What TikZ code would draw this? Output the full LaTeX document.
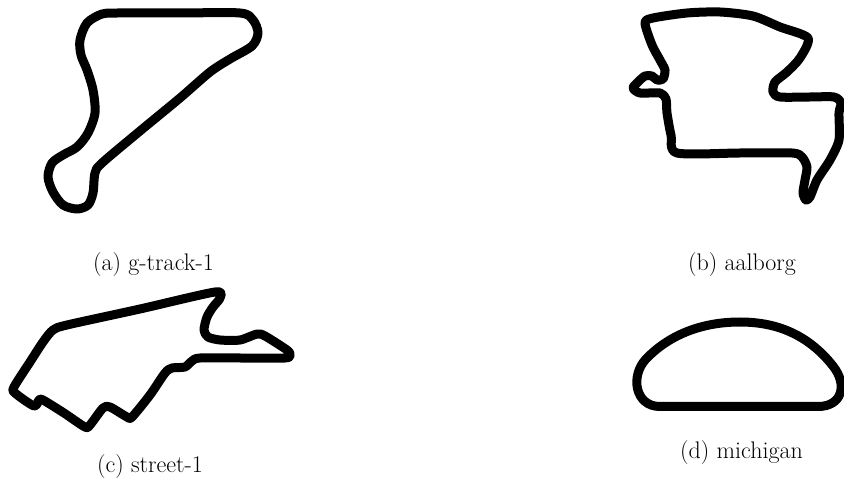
\documentclass[tikz,border=0pt]{standalone}
\usepackage{fontspec}
\begin{document}
\begin{tikzpicture}[x=1pt,y=-1pt,
  track/.style={line width=9pt, line join=round, line cap=round},
  captxt/.style={font=\fontsize{24}{29}\selectfont, anchor=base, inner sep=0pt}]
\useasboundingbox (0,0) rectangle (844,486);

% (a) g-track-1
\draw[track] plot[smooth cycle, tension=0.5] coordinates {
 (118,13) (180,13) (240,13) (253,20) (258,33) (252,46) (230,59) (210,72)
 (180,98) (140,131) (102,163) (95,173) (93,193) (88,205) (77,209) (63,205)
 (53,192) (48,177) (52,163) (63,155) (77,147) (88,133) (95,113) (93,90)
 (87,70) (81,55) (80,40) (87,23) (102,14)};

% (b) aalborg
\draw[track] plot[smooth cycle, tension=0.45] coordinates {
 (645,23) (653,18) (687,13) (720,12) (753,16) (780,27) (808,38)
 (800,58) (787,72) (775,82) (773,92) (780,97) (810,97) (834,97) (841,103)
 (839,113) (839,140) (830,160) (817,180) (810,197) (806,200) (803,193)
 (805,180) (807,167) (802,157) (792,153) (740,153) (677,153)
 (671,135) (667,113) (666,99) (660,93) (640,93) (633,88) (638,82)
 (645,76) (652,76) (657,80) (663,79) (665,70) (660,60) (652,45)};

% (c) street-1
\draw[track] plot[smooth cycle, tension=0.45] coordinates {
 (67,325) (140,309) (215,292) (220,298) (213,307) (207,317) (204,330)
 (208,337) (220,340) (240,340) (257,334) (265,336) (287,350) (290,355)
 (285,358) (240,358) (200,358) (192,361) (185,367) (172,368) (165,373)
 (150,395) (132,417) (127,417) (110,407) (103,408) (90,425) (85,427)
 (64,413) (43,400) (39,400) (34,406) (15,393) (14,387) (30,362) (43,342) (53,330)};

% (d) michigan
\draw[track] (660,406.5) -- (818,406.5)
  .. controls (842,406.5) and (848,385) .. (833,366)
  .. controls (810,337) and (780,322) .. (740,322)
  .. controls (700,322) and (668,336) .. (646,359)
  .. controls (630,376) and (635,406.5) .. (660,406.5) -- cycle;

\node[captxt] (capa) at (153.5,271) {(a) g-track-1};
\node[captxt] (capb) at (742,271) {(b) aalborg};
\node[captxt] (capc) at (150,472) {(c) street-1};
\node[captxt] (capd) at (741.5,458) {(d) michigan};
\end{tikzpicture}
\end{document}
